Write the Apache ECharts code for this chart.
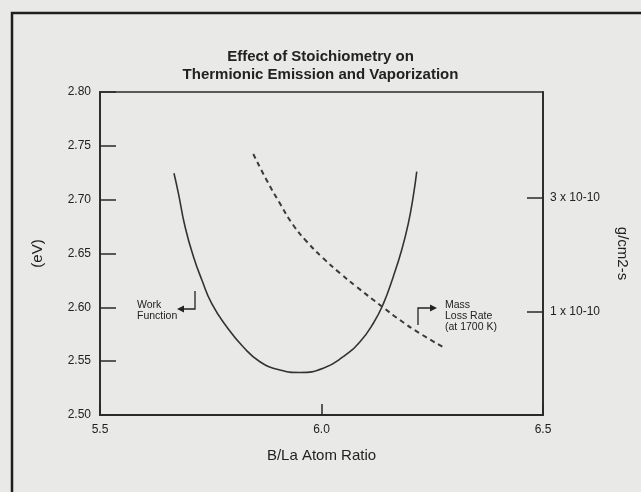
<!DOCTYPE html>
<html>
<head>
<meta charset="utf-8">
<script src="https://cdn.jsdelivr.net/npm/echarts@6/dist/echarts.min.js"></script>
<style>
html,body{margin:0;padding:0;background:#e9eae7;}
#chart{width:641px;height:492px;}
</style>
</head>
<body>
<div id="chart"></div>
<script>
// ---- data ----
const titleText = 'Effect of Stoichiometry on\nThermionic Emission and Vaporization';
const xAxisName = 'B/La Atom Ratio';
const leftAxisName = '(eV)';
const rightAxisName = 'g/cm2-s';

// Work function curve (eV) vs B/La ratio
const workRatio = [5.667, 5.677, 5.692, 5.711, 5.730, 5.752, 5.786, 5.823, 5.861, 5.906, 5.951,
                   6.004, 6.049, 6.087, 6.117, 6.140, 6.162, 6.181, 6.196, 6.207, 6.215];
const workFunction = [2.7245, 2.7059, 2.6749, 2.6470, 2.6254, 2.6037, 2.5820, 2.5634, 2.5495, 2.5418, 2.5395,
                      2.5434, 2.5542, 2.5681, 2.5852, 2.6037, 2.6285, 2.6533, 2.6780, 2.7028, 2.7260];

// Mass loss rate at 1700 K (units of 1e-10 g/cm2-s) vs B/La ratio
const massRatio = [5.846, 5.876, 5.906, 5.936, 5.967, 6.004, 6.042, 6.079, 6.132, 6.177, 6.222, 6.279];
const massLoss  = [4.585, 3.568, 2.851, 2.313, 1.969, 1.678, 1.452, 1.276, 1.070, 0.926, 0.814, 0.705];

const annWork = 'Work\nFunction';
const annMass = 'Mass\nLoss Rate\n(at 1700 K)';
const rightUnitSuffix = ' x 10-10';

// ---- chart ----
const REG = "'Liberation Sans', Arial, sans-serif";
const INK = '#2a2a2a';

const chart = echarts.init(document.getElementById('chart'), null, {renderer: 'canvas'});

const workData = workRatio.map((x, i) => [x, workFunction[i]]);
const massData = massRatio.map((x, i) => [x, massLoss[i]]);

chart.setOption({
  backgroundColor: '#e9eae7',
  animation: false,
  title: {
    text: titleText,
    left: 'center',
    top: 43,
    textStyle: {fontFamily: REG, fontWeight: 'bold', fontSize: 15, lineHeight: 18, color: '#222'}
  },
  grid: {
    left: 100, right: 98, top: 92, bottom: 77,
    show: true, borderColor: INK, borderWidth: 1.5, backgroundColor: 'transparent'
  },
  xAxis: {
    type: 'value', min: 5.5, max: 6.5, interval: 0.5,
    name: xAxisName, nameLocation: 'middle', nameGap: 33,
    nameTextStyle: {fontFamily: REG, fontSize: 15, color: '#222'},
    axisLine: {lineStyle: {color: INK, width: 1.8}},
    axisTick: {inside: true, length: 11, lineStyle: {color: INK, width: 1.5}},
    axisLabel: {fontFamily: REG, fontSize: 12, color: '#222', margin: 9, formatter: v => v.toFixed(1)},
    splitLine: {show: false}
  },
  yAxis: [{
    type: 'value', min: 2.5, max: 2.8, interval: 0.05, position: 'left',
    name: leftAxisName, nameLocation: 'middle', nameGap: 55, nameRotate: 90,
    nameTextStyle: {fontFamily: REG, fontSize: 15, color: '#222'},
    axisLine: {show: true, lineStyle: {color: INK, width: 1.8}},
    axisTick: {inside: true, length: 16, lineStyle: {color: INK, width: 1.5}},
    axisLabel: {fontFamily: REG, fontSize: 12, color: '#222', margin: 9, formatter: v => v.toFixed(2)},
    splitLine: {show: false}
  }, {
    type: 'log', logBase: 3, min: 0.3706, max: 8.335, position: 'right',
    name: rightAxisName, nameLocation: 'middle', nameGap: 72, nameRotate: -90,
    nameTextStyle: {fontFamily: REG, fontSize: 15, color: '#222'},
    axisLine: {show: true, lineStyle: {color: INK, width: 1.8}},
    axisTick: {inside: true, length: 16, lineStyle: {color: INK, width: 1.5}},
    axisLabel: {
      fontFamily: REG, fontSize: 12, color: '#222', margin: 7,
      showMinLabel: false, showMaxLabel: false,
      formatter: v => (Math.abs(v - 1) < 1e-6 || Math.abs(v - 3) < 1e-6) ? Math.round(v) + rightUnitSuffix : ''
    },
    splitLine: {show: false},
    minorTick: {show: false}
  }],
  series: [{
    name: 'Work Function', type: 'line', xAxisIndex: 0, yAxisIndex: 0,
    data: workData, smooth: true, symbol: 'none',
    lineStyle: {color: '#333', width: 1.6}
  }, {
    name: 'Mass Loss Rate', type: 'line', xAxisIndex: 0, yAxisIndex: 1,
    data: massData, smooth: true, symbol: 'none',
    lineStyle: {color: '#3a3a3a', width: 2, type: [5, 4]}
  }],
  graphic: [
    {type: 'polyline', shape: {points: [[12, 492], [12, 13], [641, 13]]}, style: {stroke: '#1e1e1e', lineWidth: 2.5, fill: null}, silent: true},
    // Work Function annotation
    {type: 'text', left: 137, top: 300, style: {text: annWork, fontFamily: REG, fontSize: 10.5, lineHeight: 11, fill: '#222'}},
    {type: 'polyline', shape: {points: [[195, 291], [195, 309], [183, 309]]}, style: {stroke: '#222', lineWidth: 1.3, fill: null}},
    {type: 'polygon', shape: {points: [[177, 309], [184, 305.5], [184, 312.5]]}, style: {fill: '#222'}},
    // Mass Loss annotation
    {type: 'text', left: 445, top: 300, style: {text: annMass, fontFamily: REG, fontSize: 10.5, lineHeight: 11, fill: '#222'}},
    {type: 'polyline', shape: {points: [[418, 325], [418, 308], [430, 308]]}, style: {stroke: '#222', lineWidth: 1.3, fill: null}},
    {type: 'polygon', shape: {points: [[437, 308], [430, 304.5], [430, 311.5]]}, style: {fill: '#222'}}
  ]
});
</script>
</body>
</html>
